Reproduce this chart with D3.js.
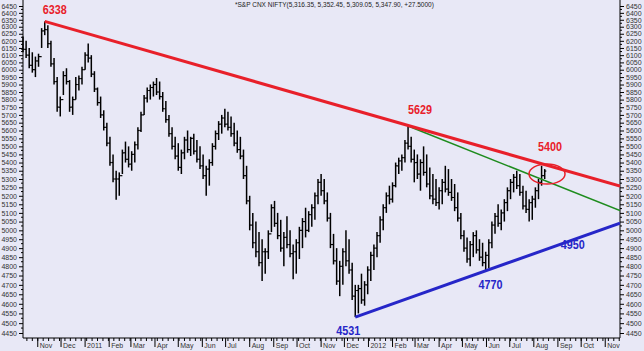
<!DOCTYPE html>
<html>
<head>
<meta charset="utf-8">
<script src="https://cdn.jsdelivr.net/npm/d3@7"></script>
<style>
  body { margin: 0; background: #e8e8f6; }
  svg { display: block; font-family: "Liberation Sans", Arial, sans-serif; }
</style>
</head>
<body>
<div id="chart"></div>
<script>
// price bars of the S&P CNX Nifty, sampled every 4 calendar days
const firstDay = "2010-10-13";
const stepDays = 4;
const highs = [6230,6200,6150,6120,6090,6110,6290,6338,6310,6200,6080,5950,5820,5990,6010,5930,5820,5950,5960,6020,
  6120,6181,6100,5990,5880,5820,5730,5650,5560,5450,5350,5340,5480,5530,5500,5470,5530,5620,5720,5830,
  5880,5900,5920,5944,5920,5850,5790,5700,5620,5560,5520,5480,5560,5600,5560,5580,5540,5500,5450,5380,
  5420,5520,5600,5660,5700,5740,5720,5690,5650,5600,5560,5480,5380,5200,5100,5050,4990,4950,4900,5000,
  5150,5170,5100,5060,4990,5080,5000,4920,4950,5020,5070,5130,5110,5150,5220,5300,5330,5300,5220,5100,
  4980,4900,4830,4900,5000,4950,4820,4700,4700,4760,4720,4800,4880,4920,4990,5080,5150,5220,5260,5280,
  5400,5430,5450,5540,5629,5560,5480,5450,5420,5500,5450,5370,5330,5300,5250,5300,5380,5360,5300,5270,
  5220,5100,5000,4960,4940,4990,5000,4950,4930,4880,4950,5050,5100,5150,5120,5180,5250,5300,5330,5350,
  5330,5260,5230,5180,5200,5250,5300,5380,5360];
const lows = [6120,6080,6010,5980,5950,6020,6150,6240,6150,6020,5900,5720,5690,5830,5900,5720,5700,5800,5860,5900,
  6000,6050,5950,5850,5760,5680,5600,5500,5380,5280,5177,5200,5330,5400,5370,5350,5400,5480,5590,5700,
  5780,5800,5820,5830,5800,5720,5650,5560,5480,5420,5350,5330,5420,5460,5440,5450,5400,5360,5300,5200,
  5260,5380,5480,5540,5580,5620,5600,5560,5500,5460,5420,5300,5150,5000,4900,4850,4800,4720,4760,4840,
  4990,5020,4950,4880,4800,4900,4850,4730,4760,4840,4900,4960,4990,5020,5060,5150,5200,5150,5050,4900,
  4810,4700,4640,4700,4800,4760,4620,4531,4550,4600,4590,4650,4720,4780,4850,4930,5000,5100,5150,5160,
  5250,5330,5350,5400,5480,5400,5280,5300,5230,5320,5250,5180,5150,5140,5120,5150,5220,5200,5170,5110,
  5050,4950,4880,4820,4800,4850,4870,4830,4800,4770,4790,4900,4980,5020,5000,5050,5110,5180,5220,5240,
  5200,5120,5100,5050,5060,5130,5180,5260,5300];
const closes = [6140,6100,6030,6000,6060,6090,6270,6280,6180,6040,5920,5750,5800,5960,5920,5750,5800,5900,5940,6000,
  6100,6080,5970,5870,5780,5700,5620,5520,5400,5300,5300,5320,5460,5420,5390,5450,5510,5600,5700,5810,
  5860,5880,5900,5850,5820,5740,5670,5580,5500,5440,5370,5460,5540,5480,5550,5470,5420,5380,5320,5360,
  5400,5500,5580,5640,5680,5640,5620,5580,5520,5480,5440,5320,5170,5030,4930,4880,4820,4880,4880,4980,
  5130,5040,4970,4900,4960,4920,4870,4880,4930,5000,5050,5000,5090,5130,5200,5280,5230,5170,5070,4920,
  4830,4720,4800,4880,4830,4780,4640,4670,4680,4620,4700,4780,4860,4900,4970,5060,5130,5200,5180,5260,
  5380,5410,5430,5520,5500,5420,5400,5330,5400,5340,5270,5200,5180,5160,5230,5280,5240,5220,5190,5130,
  5070,4970,4900,4840,4920,4970,4890,4850,4820,4860,4930,5030,5080,5040,5100,5160,5230,5280,5310,5260,
  5220,5140,5120,5160,5180,5230,5280,5320,5348];

// y axis tick labels
const yTicks = d3.range(4450, 6451, 50);

// trend lines [date, value]
const redLine = [["2010-11-10", 6338], ["2012-11-20", 5257]];
const greenLine = [["2012-02-21", 5629], ["2012-11-20", 5113]];
const blueLine = [["2011-12-15", 4531], ["2012-11-20", 5041]];

// annotations
const notes = [
  {text: "6338", date: "2010-11-10", value: 6338, color: "#e8202a"},
  {text: "5629", date: "2012-02-21", value: 5629, color: "#e8202a"},
  {text: "5400", date: "2012-08-18", value: 5330, color: "#e8202a"},
  {text: "4531", date: "2011-12-15", value: 4531, color: "#2626c8"},
  {text: "4770", date: "2012-06-01", value: 4770, color: "#2626c8"},
  {text: "4950", date: "2012-09-20", value: 4950, color: "#2626c8"}
];
const noteOffsets = [[10, -7], [12, -12], [3, -23], [-7, 18], [4, 17], [0, 10]];

const title = "*S&P CNX NIFTY(5,316.35, 5,352.45, 5,309.05, 5,347.90, +27.5000)";

const width = 644, height = 351;
const plot = {left: 23, right: 620, top: 0, bottom: 338};

const parse = d3.timeParse("%Y-%m-%d");
const start = parse(firstDay);
const bars = highs.map((h, i) => ({
  date: d3.timeDay.offset(start, i * stepDays),
  high: h, low: lows[i], close: closes[i],
  open: i > 0 ? closes[i - 1] : closes[i]
}));

const x = d3.scaleTime()
  .domain([parse("2010-10-13"), parse("2012-11-20")])
  .range([plot.left, plot.right]);
const y = d3.scaleLog()
  .domain([4450, 6450])
  .range([333, 6]);

const svg = d3.select("#chart").append("svg")
  .attr("width", width).attr("height", height);

svg.append("rect").attr("width", width).attr("height", height).attr("fill", "#e8e8f6");

const defs = svg.append("defs");
defs.append("clipPath").attr("id", "clip")
  .append("rect")
  .attr("x", plot.left).attr("y", plot.top)
  .attr("width", plot.right - plot.left).attr("height", plot.bottom - plot.top);
defs.append("clipPath").attr("id", "xclip")
  .append("rect").attr("x", plot.left).attr("y", plot.bottom)
  .attr("width", plot.right - plot.left).attr("height", 20);

// title
svg.append("text")
  .attr("x", 235).attr("y", 7)
  .attr("font-size", 6.5).attr("fill", "#222")
  .text(title);

// y axes
const fmt = d3.format("d");
const minor = d3.range(4475, 6450, 50);
function yAxis(g, side) {
  const ax = side === "left" ? d3.axisLeft(y) : d3.axisRight(y);
  g.call(ax.tickValues(yTicks).tickFormat(fmt).tickSize(4).tickPadding(2));
  g.select(".domain").attr("d", `M0,${plot.top}V${plot.bottom}`).attr("stroke", "#000");
  g.selectAll("text").attr("font-size", 7).attr("fill", "#333")
    .attr("font-family", "'Liberation Sans', Arial, sans-serif");
  g.selectAll(".minor").data(minor).join("line")
    .attr("class", "minor")
    .attr("x1", 0).attr("x2", side === "left" ? -2 : 2)
    .attr("y1", d => y(d)).attr("y2", d => y(d))
    .attr("stroke", "#000");
}
svg.append("g").attr("transform", `translate(${plot.left},0)`).call(yAxis, "left");
svg.append("g").attr("transform", `translate(${plot.right},0)`).call(yAxis, "right");

// x axis
const xg = svg.append("g");
xg.append("line")
  .attr("x1", plot.left).attr("x2", plot.right)
  .attr("y1", plot.bottom).attr("y2", plot.bottom)
  .attr("stroke", "#000");
const weeks = d3.timeMonday.range(x.domain()[0], x.domain()[1]);
xg.selectAll(".wk").data(weeks).join("line")
  .attr("class", "wk")
  .attr("x1", d => x(d)).attr("x2", d => x(d))
  .attr("y1", plot.bottom).attr("y2", plot.bottom + 3)
  .attr("stroke", "#000");
const months = d3.timeMonth.range(x.domain()[0], x.domain()[1]);
xg.selectAll(".mo").data(months).join("line")
  .attr("class", "mo")
  .attr("x1", d => x(d)).attr("x2", d => x(d))
  .attr("y1", plot.bottom).attr("y2", plot.bottom + 9)
  .attr("stroke", "#000");
const monthFmt = d => d.getMonth() === 0 ? d3.timeFormat("%Y")(d) : d3.timeFormat("%b")(d);
xg.append("g").attr("clip-path", "url(#xclip)")
  .selectAll("text").data(months).join("text")
  .attr("x", d => x(d) + 2).attr("y", plot.bottom + 10)
  .attr("font-size", 7).attr("fill", "#333")
  .text(monthFmt);

// price bars (high-low with open/close ticks)
const barG = svg.append("g").attr("stroke", "#000");
barG.selectAll(".hl").data(bars).join("line")
  .attr("class", "hl")
  .attr("x1", d => x(d.date)).attr("x2", d => x(d.date))
  .attr("y1", d => y(d.high)).attr("y2", d => y(d.low))
  .attr("stroke-width", 1.5);
barG.selectAll(".op").data(bars).join("line")
  .attr("class", "op")
  .attr("x1", d => x(d.date) - 1.6).attr("x2", d => x(d.date))
  .attr("y1", d => y(d.open)).attr("y2", d => y(d.open))
  .attr("stroke-width", 1.2);
barG.selectAll(".cl").data(bars).join("line")
  .attr("class", "cl")
  .attr("x1", d => x(d.date)).attr("x2", d => x(d.date) + 1.6)
  .attr("y1", d => y(d.close)).attr("y2", d => y(d.close))
  .attr("stroke-width", 1.2);

// trend lines
const line = d3.line().x(d => x(parse(d[0]))).y(d => y(d[1]));
const trends = svg.append("g").attr("clip-path", "url(#clip)").attr("fill", "none");
trends.append("path").attr("d", line(greenLine)).attr("stroke", "#1e8c1e").attr("stroke-width", 1.5);
trends.append("path").attr("d", line(redLine)).attr("stroke", "#e8202a").attr("stroke-width", 3);
trends.append("path").attr("d", line(blueLine)).attr("stroke", "#2626c8").attr("stroke-width", 3);

// circle round the latest bars
trends.append("ellipse")
  .attr("cx", x(parse("2012-08-18"))).attr("cy", y(5330))
  .attr("rx", 18).attr("ry", 10)
  .attr("stroke", "#e8202a").attr("stroke-width", 1.5);

// annotations
svg.append("g").selectAll("text").data(notes).join("text")
  .attr("x", (d, i) => x(parse(d.date)) + noteOffsets[i][0])
  .attr("y", (d, i) => y(d.value) + noteOffsets[i][1])
  .attr("text-anchor", "middle")
  .attr("textLength", 24).attr("lengthAdjust", "spacingAndGlyphs")
  .attr("font-weight", "bold").attr("font-size", 13)
  .attr("fill", d => d.color)
  .text(d => d.text);
</script>
</body>
</html>
